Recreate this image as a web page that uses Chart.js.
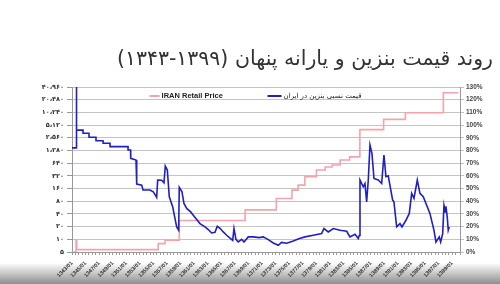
<!DOCTYPE html>
<html>
<head>
<meta charset="utf-8">
<script src="https://cdn.jsdelivr.net/npm/chart.js@4.4.0/dist/chart.umd.min.js"></script>
<style>
  html, body { margin: 0; padding: 0; }
  body {
    width: 500px; height: 284px; overflow: hidden;
    background: linear-gradient(to bottom, #fff 0px, #fff 263px, #dedede 269px, #8e8e8e 284px);
  }
  #wrap { position: relative; width: 500px; height: 284px; }
</style>
</head>
<body>
<div id="wrap"><canvas id="chart" dir="rtl"></canvas></div>
<script>
// Prix de l'essence en Iran (rials, échelle log) - marches d'escalier
const redYears = [1343, 1343.6, 1343.7, 1355.7, 1356.7, 1358.8, 1368.5, 1373.1, 1375.4, 1376.3, 1377.3, 1379.0, 1380.3, 1381.3, 1382.5, 1383.9, 1385.4, 1388.9, 1392.1, 1397.7, 1399.9];
const redPrice = [5, 9.5, 5.7, 7.9, 9.5, 28, 50, 93, 147, 193, 305, 440, 520, 577, 760, 900, 4000, 7000, 10000, 30000, 30000];

// Prix relatif de l'essence (%)
const blueYears = [1343.0, 1343.62, 1343.65, 1343.68, 1344.62, 1344.63, 1345.50, 1345.51, 1346.53, 1346.54, 1347.57, 1347.58, 1348.60, 1348.61,
  1351.25, 1351.26, 1351.62, 1351.65, 1352.43, 1352.53, 1353.27, 1353.46, 1354.49, 1354.97,
  1355.47, 1355.62, 1356.21, 1356.55, 1356.74, 1357.04, 1357.33, 1357.83, 1358.02, 1358.42,
  1358.71, 1358.80, 1359.20, 1359.49, 1359.89, 1360.48, 1360.86, 1361.37, 1361.85, 1362.59,
  1363.07, 1363.57, 1364.06, 1364.40, 1364.80, 1365.28, 1365.78, 1366.37, 1366.67, 1366.86,
  1367.15, 1367.49, 1367.99, 1368.33, 1368.96, 1369.70, 1370.58, 1371.17, 1371.91, 1372.65,
  1373.38, 1373.88, 1374.62, 1375.59, 1376.5, 1377.31, 1378.54, 1379.77, 1380.11, 1380.75,
  1381.48, 1382.47, 1383.46, 1383.94, 1384.68, 1385.17, 1385.31, 1385.42, 1385.90, 1386.15,
  1386.40, 1386.64, 1386.89, 1387.18, 1387.48, 1388.11, 1388.61, 1388.95, 1389.24, 1389.58,
  1390.23, 1390.42, 1390.82, 1391.31, 1391.60, 1392.19, 1392.68, 1393.03, 1393.37, 1393.86,
  1394.25, 1394.74, 1395.72, 1396.31, 1396.61, 1397.09, 1397.30, 1397.60, 1397.79, 1397.98,
  1398.08, 1398.27, 1398.42, 1398.57];
const bluePct = [82, 82, 160, 96, 96, 93.6, 93.6, 90.4, 90.4, 87.7, 87.7, 85.7, 85.7, 83,
  83, 80.4, 80.4, 73.8, 72.5, 53.5, 52.7, 48.8, 48.8, 47.4,
  43, 56.7, 56.5, 54.5, 67.7, 64.6, 43.5, 35.6, 30.4, 19.8,
  17.2, 50.9, 47.4, 38.3, 34.3, 31.6, 29, 25.6, 22.4, 19.8,
  17.7, 15, 15.5, 20.3, 18.7, 15.8, 13.2, 10.6, 9.2, 18.5,
  10, 7.9, 10, 7.9, 11.9, 11.9, 11.3, 11.9, 9.8, 7.1,
  5.3, 7.6, 6.9, 8.7, 10.6, 11.9, 13.2, 14.5, 18.5, 15.8,
  18.5, 17.2, 16.3, 11.9, 14, 10.6, 13, 56.7, 51.4, 54,
  39.5, 56.7, 84.3, 77.8, 58, 56.7, 54, 76.4, 59.3, 60,
  40.9, 39.5, 19.8, 22.4, 19.8, 25, 30.4, 46.2, 42.2, 56.7,
  46.2, 43.5, 30.4, 17.2, 7.9, 11.9, 7.9, 14.5, 36.7, 31.6,
  36, 27.7, 17.2, 19.8];

// Graduations
const leftTicks = [5, 10, 20, 40, 80, 160, 320, 640, 1280, 2560, 5120, 10240, 20480, 40960];
const leftTickLabels = ['۵', '۱۰', '۲۰', '۴۰', '۸۰', '۱۶۰', '۳۲۰', '۶۴۰', '۱،۲۸۰', '۲،۵۶۰', '۵،۱۲۰', '۱۰،۲۴۰', '۲۰،۴۸۰', '۴۰،۹۶۰'];
const xLabelYears = [1343, 1345, 1347, 1349, 1351, 1353, 1355, 1357, 1359, 1361, 1363, 1365, 1367, 1369, 1371, 1373, 1375, 1377, 1379, 1381, 1383, 1385, 1387, 1389, 1391, 1393, 1395, 1397, 1399];

// ordre logique choisi pour que l'affichage rtl donne (۱۳۴۳-۱۳۹۹)
const titleText = 'روند قیمت بنزین و یارانه پنهان (۱۳۹۹-۱۳۴۳)';
const redLabel = 'IRAN Retail Price';
const blueLabel = 'قیمت نسبی بنزین در ایران';

// Légende dessinée dans la zone du graphique
const legendeInterne = {
  id: 'legendeInterne',
  afterDatasetsDraw(chart) {
    const { ctx, chartArea } = chart;
    const w = chartArea.right - chartArea.left;
    const y = chartArea.top + 9;
    const items = [
      { ds: 0, pos: 0.2, len: 10, font: 'bold 7.5px "Liberation Sans", Arial' },
      { ds: 1, pos: 0.504, len: 14, font: '7px "DejaVu Sans"' }
    ];
    ctx.save();
    items.forEach(it => {
      const d = chart.data.datasets[it.ds];
      const x0 = chartArea.left + w * it.pos;
      ctx.strokeStyle = d.borderColor;
      ctx.lineWidth = 2;
      ctx.beginPath();
      ctx.moveTo(x0, y);
      ctx.lineTo(x0 + it.len, y);
      ctx.stroke();
      ctx.fillStyle = '#222';
      ctx.font = it.font;
      ctx.textAlign = 'left';
      ctx.textBaseline = 'middle';
      ctx.fillText(d.label, x0 + it.len + 2, y);
    });
    ctx.restore();
  }
};

new Chart(document.getElementById('chart'), {
  type: 'line',
  data: {
    datasets: [
      {
        label: redLabel,
        data: redYears.map((x, i) => ({ x: x, y: redPrice[i] })),
        yAxisID: 'yLeft',
        borderColor: '#f5a3ab',
        borderWidth: 1.6,
        stepped: 'before',
        pointRadius: 0,
        order: 2
      },
      {
        label: blueLabel,
        data: blueYears.map((x, i) => ({ x: x, y: bluePct[i] })),
        yAxisID: 'yRight',
        borderColor: '#1f1fc4',
        borderWidth: 1.6,
        tension: 0,
        pointRadius: 0,
        order: 1
      }
    ]
  },
  options: {
    responsive: true,
    maintainAspectRatio: false,
    animation: false,
    layout: { padding: { left: 0, right: 7, top: 0, bottom: 0 } },
    plugins: {
      legend: { display: false },
      tooltip: { enabled: false },
      title: {
        display: true,
        text: titleText,
        align: 'end',
        color: '#333',
        font: { family: '"DejaVu Sans"', size: 20.5, weight: 'normal' },
        padding: { top: 47, bottom: 15.4 }
      }
    },
    scales: {
      x: {
        type: 'linear',
        min: 1343,
        max: 1400.15,
        afterFit(scale) { scale.height = 32; },
        border: { display: true, color: '#999' },
        grid: { drawOnChartArea: false, drawTicks: true, tickLength: 3, color: '#999' },
        ticks: {
          stepSize: 0.5,
          maxTicksLimit: 200,
          autoSkip: false,
          minRotation: 45,
          maxRotation: 45,
          padding: 5,
          color: '#333',
          font: { family: '"Liberation Sans", Arial', size: 5.5, weight: 'bold' },
          callback: v => xLabelYears.includes(v) ? v + '/01' : ''
        }
      },
      yLeft: {
        type: 'logarithmic',
        position: 'left',
        min: 5,
        max: 40960,
        afterFit(scale) { scale.width = 72; },
        afterBuildTicks(scale) { scale.ticks = leftTicks.map(v => ({ value: v })); },
        border: { display: true, color: '#999' },
        grid: { drawOnChartArea: false, drawTicks: true, tickLength: 5, color: '#999' },
        ticks: {
          autoSkip: false,
          padding: 3,
          color: '#333',
          font: { family: '"DejaVu Sans"', size: 6.5, weight: 'bold' },
          callback: (v, i) => leftTickLabels[i]
        }
      },
      yRight: {
        type: 'linear',
        position: 'right',
        min: 0,
        max: 130,
        afterFit(scale) { scale.width = 33; },
        border: { display: true, color: '#999' },
        grid: { drawOnChartArea: true, drawTicks: true, tickLength: 4, color: '#c4c4c4' },
        ticks: {
          stepSize: 10,
          autoSkip: false,
          padding: 2,
          color: '#444',
          font: { family: '"Liberation Sans", Arial', size: 6.5, weight: 'bold' },
          callback: v => v + '%'
        }
      }
    }
  },
  plugins: [legendeInterne]
});
</script>
</body>
</html>
